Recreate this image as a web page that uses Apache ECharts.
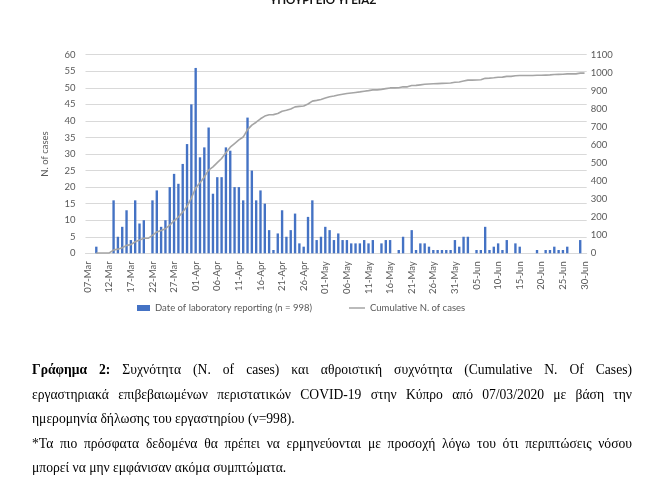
<!DOCTYPE html>
<html>
<head>
<meta charset="utf-8">
<script src="https://cdn.jsdelivr.net/npm/echarts@6.0.0/dist/echarts.min.js"></script>
<style>
  html, body { margin: 0; padding: 0; background: #fff; }
  #wrap { position: relative; width: 646px; height: 487px; overflow: hidden; }
  #chart { position: absolute; left: 0; top: 0; width: 646px; height: 487px; }
  #hdr { position: absolute; left: 0; width: 646px; top: -6px; text-align: center;
         font-family: Lato, "Liberation Sans", sans-serif; font-weight: bold; font-size: 11.5px; line-height: 12px; color: #111; }
  .cap { position: absolute; left: 32px; width: 600px; font-family: "Liberation Serif", serif;
         font-size: 13.6px; line-height: 16px; color: #000; white-space: nowrap; }
  .just { text-align: justify; text-align-last: justify; white-space: normal; }
</style>
</head>
<body>
<div id="wrap">
  <div id="chart"></div>
  <div id="hdr">ΥΠΟΥΡΓΕΙΟ ΥΓΕΙΑΣ</div>
  <div class="cap just" style="top:362px"><b>Γράφημα 2:</b> Συχνότητα (N. of cases) και αθροιστική συχνότητα (Cumulative N. Of Cases)</div>
  <div class="cap just" style="top:387px">εργαστηριακά επιβεβαιωμένων περιστατικών COVID-19 στην Κύπρο από 07/03/2020 με βάση την</div>
  <div class="cap" style="top:411px">ημερομηνία δήλωσης του εργαστηρίου (ν=998).</div>
  <div class="cap just" style="top:436px">*Τα πιο πρόσφατα δεδομένα θα πρέπει να ερμηνεύονται με προσοχή λόγω του ότι περιπτώσεις νόσου</div>
  <div class="cap" style="top:460px">μπορεί να μην εμφάνισαν ακόμα συμπτώματα.</div>
</div>
<script>
const dates = [
  '07-Mar','08-Mar','09-Mar','10-Mar','11-Mar','12-Mar','13-Mar','14-Mar','15-Mar','16-Mar',
  '17-Mar','18-Mar','19-Mar','20-Mar','21-Mar','22-Mar','23-Mar','24-Mar','25-Mar','26-Mar',
  '27-Mar','28-Mar','29-Mar','30-Mar','31-Mar',
  '01-Apr','02-Apr','03-Apr','04-Apr','05-Apr','06-Apr','07-Apr','08-Apr','09-Apr','10-Apr',
  '11-Apr','12-Apr','13-Apr','14-Apr','15-Apr','16-Apr','17-Apr','18-Apr','19-Apr','20-Apr',
  '21-Apr','22-Apr','23-Apr','24-Apr','25-Apr','26-Apr','27-Apr','28-Apr','29-Apr','30-Apr',
  '01-May','02-May','03-May','04-May','05-May','06-May','07-May','08-May','09-May','10-May',
  '11-May','12-May','13-May','14-May','15-May','16-May','17-May','18-May','19-May','20-May',
  '21-May','22-May','23-May','24-May','25-May','26-May','27-May','28-May','29-May','30-May','31-May',
  '01-Jun','02-Jun','03-Jun','04-Jun','05-Jun','06-Jun','07-Jun','08-Jun','09-Jun','10-Jun',
  '11-Jun','12-Jun','13-Jun','14-Jun','15-Jun','16-Jun','17-Jun','18-Jun','19-Jun','20-Jun',
  '21-Jun','22-Jun','23-Jun','24-Jun','25-Jun','26-Jun','27-Jun','28-Jun','29-Jun','30-Jun'
];

const dailyCases = [
  0,0,2,0,0,0,16,5,8,13,
  4,16,9,10,0,16,19,8,10,20,
  24,21,27,33,45,56,29,32,38,18,
  23,23,32,31,20,20,16,41,25,16,
  19,15,7,1,6,13,5,7,12,3,
  2,11,16,4,5,8,7,4,6,4,
  4,3,3,3,4,3,4,0,3,4,
  4,0,1,5,0,7,1,3,3,2,
  1,1,1,1,1,4,2,5,5,0,
  1,1,8,1,2,3,1,4,0,3,
  2,0,0,0,1,0,1,1,2,1,
  1,2,0,0,4,0
];

const firstCaseIndex = 2;

const leftTicks = { min: 0, max: 60, interval: 5 };
const rightTicks = { min: 0, max: 1100, interval: 100 };

const barName = 'Date of laboratory reporting (n = 998)';
const lineName = 'Cumulative N. of cases';

// cumulative series built from the daily counts
const cumulative = [];
let run = 0;
dailyCases.forEach((v, i) => {
  run += v;
  cumulative.push(i < firstCaseIndex ? null : run);
});

const FONT = 'Lato, "Liberation Sans", sans-serif';
const TXT = '#595959';
const GRID = '#D9D9D9';
const legendText = { fontFamily: FONT, fontSize: 9.5, color: TXT };

const chart = echarts.init(document.getElementById('chart'), null, { renderer: 'canvas' });
chart.setOption({
  animation: false,
  backgroundColor: '#fff',
  textStyle: { fontFamily: FONT },
  grid: { left: 85.5, right: 59.3, top: 54.7, bottom: 233.7, containLabel: false },
  legend: [
    {
      left: 132, top: 298,
      itemWidth: 13, itemHeight: 6,
      textStyle: legendText,
      data: [{ name: barName, icon: 'rect' }]
    },
    {
      left: 344, top: 298,
      itemWidth: 16, itemHeight: 1.5,
      textStyle: legendText,
      data: [{ name: lineName, icon: 'rect' }]
    }
  ],
  xAxis: {
    type: 'category',
    data: dates,
    boundaryGap: true,
    axisLine: { lineStyle: { color: GRID, width: 1 } },
    axisTick: { show: false },
    axisLabel: {
      interval: 4, rotate: 90, margin: 8,
      fontFamily: FONT, fontSize: 9.5, color: TXT
    },
    splitLine: { show: false }
  },
  yAxis: [
    {
      type: 'value', min: leftTicks.min, max: leftTicks.max, interval: leftTicks.interval,
      name: 'N. of cases', nameLocation: 'middle', nameRotate: 90, nameGap: 36,
      nameTextStyle: { fontFamily: FONT, fontSize: 9.5, color: TXT },
      axisLine: { show: false }, axisTick: { show: false },
      axisLabel: { margin: 10, fontFamily: FONT, fontSize: 9.5, color: TXT },
      splitLine: { lineStyle: { color: GRID, width: 1 } }
    },
    {
      type: 'value', min: rightTicks.min, max: rightTicks.max, interval: rightTicks.interval,
      position: 'right',
      axisLine: { show: false }, axisTick: { show: false },
      axisLabel: { margin: 4, fontFamily: FONT, fontSize: 9.5, color: TXT,
                   formatter: v => String(v) },
      splitLine: { show: false }
    }
  ],
  series: [
    {
      name: barName, type: 'bar', yAxisIndex: 0,
      data: dailyCases,
      barCategoryGap: '45%',
      itemStyle: { color: '#4472C4' }
    },
    {
      name: lineName, type: 'line', yAxisIndex: 1,
      data: cumulative,
      symbol: 'none', showSymbol: false, connectNulls: false,
      lineStyle: { color: '#A5A5A5', width: 1.6 },
      itemStyle: { color: '#A5A5A5' },
      z: 3
    }
  ]
});
</script>
</body>
</html>
